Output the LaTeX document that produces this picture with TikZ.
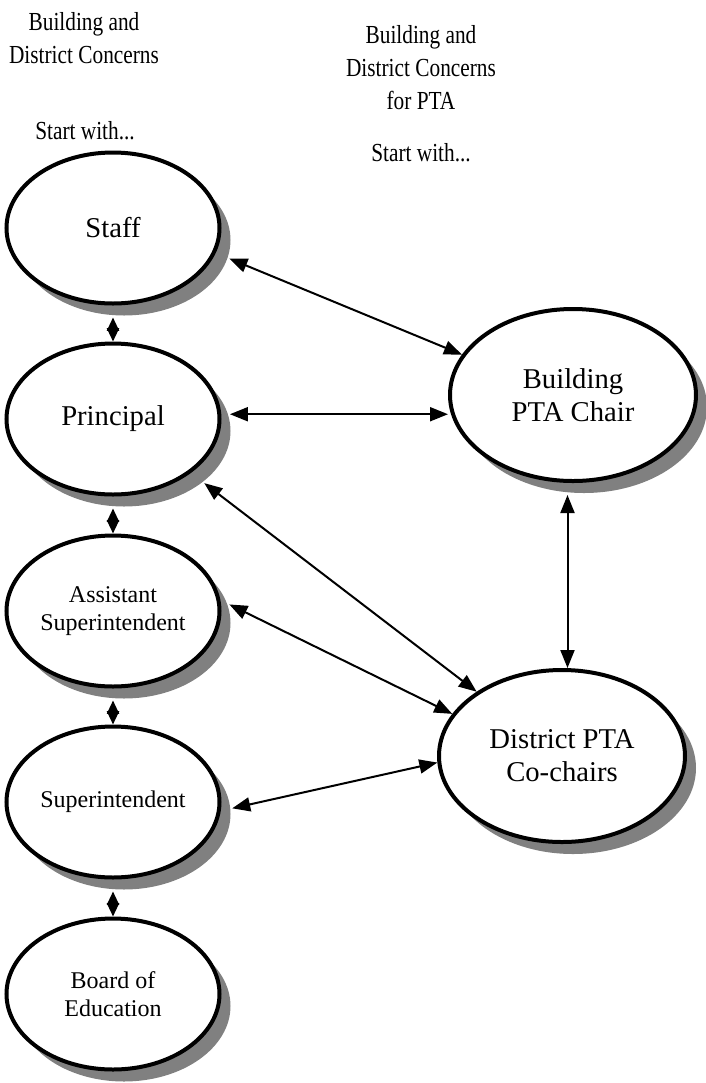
\documentclass[tikz,border=0pt]{standalone}
\usepackage{fontspec}
\setmainfont{Liberation Serif}
\usetikzlibrary{arrows.meta}
\usetikzlibrary{shapes.geometric}
\newcommand{\narrow}[1]{\scalebox{0.82}[1]{#1}}

\begin{document}
\begin{tikzpicture}[x=0.75pt,y=0.75pt,yscale=-1,xscale=1,
  oval/.style={ellipse,draw,line width=3pt,fill=white,inner sep=0pt,align=center,minimum width=159.75pt,minimum height=113.25pt},
  ovalsh/.style={ellipse,fill=gray,line width=3pt,inner sep=0pt,minimum width=159.75pt,minimum height=113.25pt},
  bigoval/.style={oval,minimum width=184.5pt,minimum height=129pt},
  bigovalsh/.style={ovalsh,minimum width=184.5pt,minimum height=129pt},
  bigtext/.style={font=\fontsize{21.5}{24.75}\selectfont},
  smalltext/.style={font=\fontsize{18}{20.5}\selectfont},
  headtext/.style={font=\fontsize{19.5}{25}\selectfont,align=center,inner sep=0pt,anchor=north},
  link/.style={line width=1.5pt,{Triangle[length=13.5pt,width=10.5pt]}-{Triangle[length=13.5pt,width=10.5pt]}},
  step link/.style={line width=1.5pt,{Triangle[length=10pt,width=9pt]}-{Triangle[length=10pt,width=9pt]}}
]
\useasboundingbox (0,0) rectangle (706,1083);

% Text Node
\node[headtext] (lefthead) at (84,12) {\narrow{Building and}\\\narrow{District Concerns}};
% Text Node
\node[headtext] (leftstart) at (85,121) {\narrow{Start with...}};
% Text Node
\node[headtext] (righthead) at (421,25) {\narrow{Building and}\\\narrow{District Concerns}\\\narrow{for PTA}};
% Text Node
\node[headtext] (rightstart) at (421,143) {\narrow{Start with...}};

%Shape: Ellipse shadows
\node[ovalsh] (staffsh) at (124,240) {};
\node[ovalsh] (principalsh) at (124,431) {};
\node[ovalsh] (asstsh) at (124,623) {};
\node[ovalsh] (supersh) at (124,814) {};
\node[ovalsh] (boardsh) at (124,1006) {};
\node[bigovalsh] (buildingsh) at (584,407) {};
\node[bigovalsh] (districtsh) at (573,768) {};

%Shape: Ellipse
\node[oval,bigtext] (staff) at (113,228) {Staff};
\node[oval,bigtext] (principal) at (113,419) {Principal};
\node[oval,smalltext] (asst) at (113,611) {Assistant\\Superintendent};
\node[oval,smalltext] (super) at (113,802) {Superintendent};
\node[oval,smalltext] (board) at (113,994) {Board of\\Education};
\node[bigoval,bigtext] (building) at (573,395) {Building\\PTA Chair};
\node[bigoval,bigtext] (district) at (562,756) {District PTA\\Co-chairs};

%Straight Lines down the left column
\draw[step link] (staff.south |- staffsh.south) -- (principal.north);
\draw[step link] (principal.south |- principalsh.south) -- (asst.north);
\draw[step link] (asst.south |- asstsh.south) -- (super.north);
\draw[step link] (super.south |- supersh.south) -- (board.north);

%Straight Lines across
\draw[link] (staffsh.-10) -- (building.160);
\draw[link] (principalsh.9.5) -- (principalsh.9.5 -| building.west);
\draw[link] (principalsh.-33) -- (district.143);
\draw[link] (asstsh.10) -- (district.159);
\draw[link] (supersh.3) -- (district.-177);

%Straight Lines between the PTA ovals
\path (building.south) -- (district.north) coordinate[midway] (mid);
\draw[link] (mid |- buildingsh.south) -- (mid |- district.north);

\end{tikzpicture}
\end{document}
